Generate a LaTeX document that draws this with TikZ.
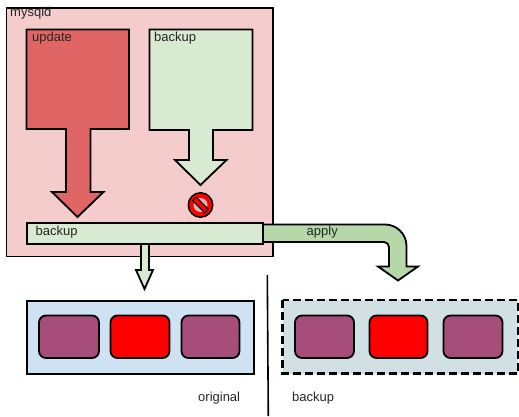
\documentclass[tikz,border=0pt]{standalone}
\usepackage{fontspec}
\setmainfont{Liberation Sans}
\usepackage{tikz}
\usetikzlibrary{positioning, calc}
\definecolor{boxMysqld}{HTML}{F4CCCC}
\definecolor{boxUpdate}{HTML}{E06666}
\definecolor{boxBackup}{HTML}{D9EAD3}
\definecolor{boxApply}{HTML}{B6D7A8}
\definecolor{boxOriginal}{HTML}{CFE2F3}
\definecolor{boxCopy}{HTML}{D0E0E3}
\definecolor{pagePlain}{HTML}{A64D79}

\begin{document}
\begin{tikzpicture}[x=1pt, y=-1pt, font=\fontsize{13}{15}\selectfont,
    outline/.style={draw=black, line width=1.8pt, line join=miter},
    arrowUpdate/.style={outline, fill=boxUpdate},
    arrowBackup/.style={outline, fill=boxBackup},
    arrowApply/.style={outline, fill=boxApply},
    pagePurple/.style={outline, fill=pagePlain, rounded corners=7pt},
    pageRed/.style={outline, fill=red, rounded corners=7pt},
    label/.style={anchor=base west, inner sep=0pt, text=black!85},
  ]
  \useasboundingbox (0,0) rectangle (519,417);

  % Server box.
  \draw[outline, fill=boxMysqld] (6.5,8) rectangle (273,256.5);
  \node[label] (mysqldLabel) at (10,16.5) {mysqld};

  % Update arrow, big block tapering into the head.
  \draw[arrowUpdate] (26.5,29.5) -- (129,29.5) -- (129,129) -- (90.5,129) -- (90.5,192)
    -- (103.5,192) -- (77.5,217) -- (52,192) -- (66,192) -- (66,129) -- (26.5,129) -- cycle;
  \node[label] (updateLabel) at (32,41.5) {update};

  % Backup arrow, stopped short of the bar.
  \draw[arrowBackup] (149.5,29.5) -- (252.5,29.5) -- (252.5,130) -- (213,130) -- (213,160)
    -- (226.5,160) -- (200.5,185) -- (175,160) -- (189,160) -- (189,130) -- (149.5,130) -- cycle;
  \node[label] (backupTopLabel) at (154,41.5) {backup};

  % No-entry sign.
  \fill[black] (200.5,205) circle (13);
  \fill[red] (200.5,205) circle (11.3);
  \fill[boxMysqld!75!gray] (200.5,205) circle (7);
  \begin{scope}[shift={(200.5,205)}, rotate=-45]
    \draw[fill=red, draw=black, line width=1pt] (-8.5,-2.6) rectangle (8.5,2.6);
  \end{scope}

  % Apply arrow goes first so the bar sits on top of it.
  \draw[arrowApply] (262,224.5) -- (385,224.5) arc[start angle=-90, end angle=0, radius=21.5]
    -- (406.5,266.5) -- (418,266.5) -- (398,280.5) -- (378,266.5) -- (389,266.5) -- (389,247)
    arc[start angle=0, end angle=-90, radius=5] -- (262,242) -- cycle;
  \node[label] (applyLabel) at (306.5,235) {apply};

  % Backup bar with its arrow down to the original pages.
  \draw[arrowBackup] (141,243) -- (149,243) -- (149,270) -- (153,270) -- (144.5,289) -- (136,270)
    -- (141,270) -- cycle;
  \draw[arrowBackup, line width=2pt] (26.5,222.5) rectangle (262.5,243.5);
  \node[label] (backupBarLabel) at (35.5,235) {backup};

  % Divider.
  \coordinate (dividerTop) at (267.3,275);
  \coordinate (dividerEnd) at (268.3,416);
  \draw[black, line width=1.6pt] (dividerTop) -- (dividerEnd);

  % Original pages.
  \draw[outline, line width=2pt, fill=boxOriginal] (26.5,300.5) rectangle (253.5,373.5);
  \draw[pagePurple] (39,315.5) rectangle (99,358);
  \draw[pageRed] (110.5,315.5) rectangle (169.5,358);
  \draw[pagePurple] (181.5,315.5) rectangle (239.5,358);
  \node[label] (originalLabel) at (198,401.5) {original};

  % Backup copy of the pages.
  \draw[outline, line width=2.2pt, dash pattern=on 7.5pt off 4.5pt, fill=boxCopy] (282.5,300) rectangle (518,373.5);
  \draw[pagePurple] (295,315.5) rectangle (354,358);
  \draw[pageRed] (369.5,315.5) rectangle (427.5,358);
  \draw[pagePurple] (443.5,315.5) rectangle (502.5,358);
  \node[label] (backupLabel) at (292,401.5) {backup};
\end{tikzpicture}
\end{document}
